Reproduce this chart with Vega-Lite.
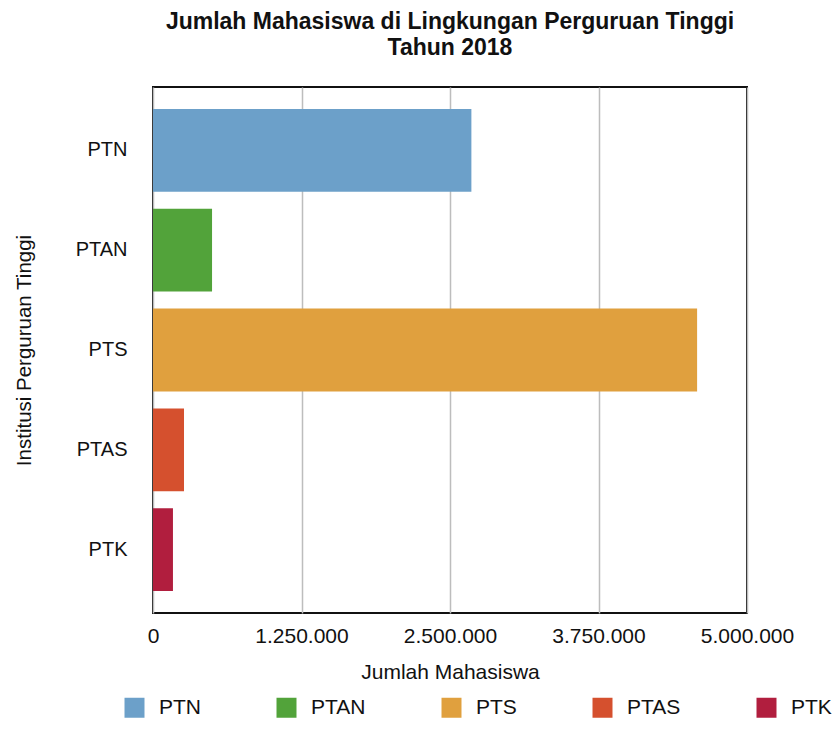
{
  "$schema": "https://vega.github.io/schema/vega-lite/v6.json",
  "autosize": {"type": "none"},
  "width": 594,
  "height": 526,
  "padding": {"left": 153, "top": 87, "right": 92, "bottom": 129},
  "background": "white",
  "config": {
    "locale": {"number": {"decimal": ",", "thousands": ".", "grouping": [3], "currency": ["Rp", ""]}},
    "font": "Liberation Sans",
    "view": {"stroke": "#111111", "strokeWidth": 2}
  },
  "title": {
    "text": ["Jumlah Mahasiswa di Lingkungan Perguruan Tinggi", "Tahun 2018"],
    "fontSize": 23,
    "fontWeight": "bold",
    "color": "#111111",
    "lineHeight": 26,
    "offset": 27,
    "anchor": "middle"
  },
  "data": {
    "values": [
      {"institusi": "PTN", "jumlah": 2680000},
      {"institusi": "PTAN", "jumlah": 497000},
      {"institusi": "PTS", "jumlah": 4580000},
      {"institusi": "PTAS", "jumlah": 261000},
      {"institusi": "PTK", "jumlah": 168000}
    ]
  },
  "mark": {"type": "bar", "opacity": 1},
  "encoding": {
    "y": {
      "field": "institusi",
      "type": "nominal",
      "sort": ["PTN", "PTAN", "PTS", "PTAS", "PTK"],
      "scale": {"paddingInner": 0.17, "paddingOuter": 0.22},
      "axis": {
        "title": "Institusi Perguruan Tinggi",
        "titleFontSize": 20.5,
        "titleFontWeight": "normal",
        "titleColor": "#111111",
        "titleX": -129,
        "titleAlign": "center",
        "titleBaseline": "middle",
        "labelFontSize": 20,
        "labelColor": "#111111",
        "labelPadding": 26,
        "ticks": false,
        "domain": false,
        "grid": false
      }
    },
    "x": {
      "field": "jumlah",
      "type": "quantitative",
      "scale": {"domain": [0, 5000000], "nice": false},
      "axis": {
        "title": "Jumlah Mahasiswa",
        "titleFontSize": 21,
        "titleFontWeight": "normal",
        "titleColor": "#111111",
        "titlePadding": 15,
        "values": [0, 1250000, 2500000, 3750000, 5000000],
        "format": ",d",
        "labelFontSize": 21,
        "labelColor": "#111111",
        "labelPadding": 12,
        "labelFlush": false,
        "ticks": false,
        "domain": false,
        "grid": true,
        "gridColor": "#bdbdbd",
        "gridWidth": 1.5
      }
    },
    "color": {
      "field": "institusi",
      "type": "nominal",
      "sort": ["PTN", "PTAN", "PTS", "PTAS", "PTK"],
      "scale": {
        "domain": ["PTN", "PTAN", "PTS", "PTAS", "PTK"],
        "range": ["#6ca0c9", "#52a33a", "#e0a03e", "#d5502e", "#b11e3e"]
      },
      "legend": {
        "title": null,
        "orient": "none",
        "direction": "horizontal",
        "legendX": -29,
        "legendY": 610,
        "symbolType": "square",
        "symbolSize": 400,
        "symbolStrokeWidth": 0,
        "symbolOpacity": 1,
        "labelFontSize": 21,
        "labelColor": "#111111",
        "labelOffset": 14,
        "columnPadding": 75
      }
    }
  }
}
